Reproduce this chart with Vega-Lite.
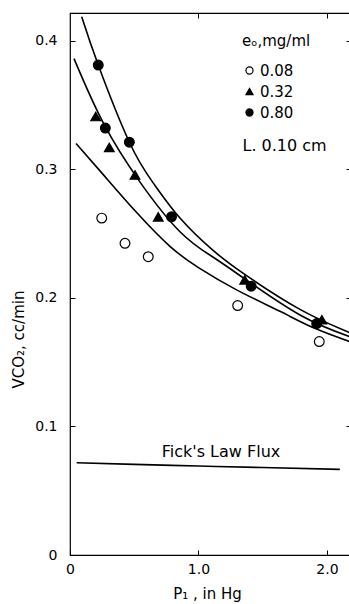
{
  "$schema": "https://vega.github.io/schema/vega-lite/v6.json",
  "width": 281,
  "height": 542,
  "autosize": {"type": "none"},
  "padding": {"left": 70, "top": 13, "right": 0, "bottom": 49},
  "background": "white",
  "config": {
    "font": "DejaVu Sans",
    "view": {"stroke": "black", "strokeWidth": 1.2},
    "axis": {
      "grid": false, "domain": false, "tickColor": "black", "tickSize": -5, "tickWidth": 1,
      "labelColor": "black", "titleColor": "black", "labelFont": "DejaVu Sans", "labelFontSize": 14,
      "titleFont": "DejaVu Sans", "titleFontSize": 15, "titleFontWeight": "normal", "labelFlush": false
    },
    "legend": {
      "titleFont": "DejaVu Sans", "labelFont": "DejaVu Sans",
      "titleFontSize": 15, "titleFontWeight": "normal", "titleColor": "black",
      "labelFontSize": 15, "labelColor": "black", "titlePadding": 14, "rowPadding": 5,
      "labelOffset": 3, "symbolStrokeWidth": 1.2, "symbolSize": 50
    }
  },
  "datasets": {
    "points": [
      {"series": "0.08", "x": 0.247, "y": 0.262},
      {"series": "0.08", "x": 0.428, "y": 0.2424},
      {"series": "0.08", "x": 0.609, "y": 0.232},
      {"series": "0.08", "x": 1.305, "y": 0.194},
      {"series": "0.08", "x": 1.94, "y": 0.166},
      {"series": "0.32", "x": 0.20, "y": 0.341},
      {"series": "0.32", "x": 0.306, "y": 0.317},
      {"series": "0.32", "x": 0.506, "y": 0.2955},
      {"series": "0.32", "x": 0.687, "y": 0.263},
      {"series": "0.32", "x": 1.36, "y": 0.214},
      {"series": "0.32", "x": 1.96, "y": 0.183},
      {"series": "0.80", "x": 0.22, "y": 0.381},
      {"series": "0.80", "x": 0.275, "y": 0.332},
      {"series": "0.80", "x": 0.462, "y": 0.321},
      {"series": "0.80", "x": 0.79, "y": 0.263},
      {"series": "0.80", "x": 1.41, "y": 0.209},
      {"series": "0.80", "x": 1.92, "y": 0.180}
    ],
    "curves": [
      {"series": "0.80", "x": 0.091, "y": 0.4186},
      {"series": "0.80", "x": 0.22, "y": 0.381},
      {"series": "0.80", "x": 0.462, "y": 0.321},
      {"series": "0.80", "x": 0.65, "y": 0.289},
      {"series": "0.80", "x": 0.856, "y": 0.262},
      {"series": "0.80", "x": 1.1, "y": 0.238},
      {"series": "0.80", "x": 1.349, "y": 0.219},
      {"series": "0.80", "x": 1.79, "y": 0.191},
      {"series": "0.80", "x": 2.19, "y": 0.1724},
      {"series": "0.32", "x": 0.031, "y": 0.386},
      {"series": "0.32", "x": 0.259, "y": 0.336},
      {"series": "0.32", "x": 0.545, "y": 0.290},
      {"series": "0.32", "x": 0.856, "y": 0.2514},
      {"series": "0.32", "x": 1.1, "y": 0.2325},
      {"series": "0.32", "x": 1.336, "y": 0.2164},
      {"series": "0.32", "x": 1.79, "y": 0.1866},
      {"series": "0.32", "x": 2.19, "y": 0.1693},
      {"series": "0.08", "x": 0.047, "y": 0.320},
      {"series": "0.08", "x": 0.259, "y": 0.2958},
      {"series": "0.08", "x": 0.519, "y": 0.2663},
      {"series": "0.08", "x": 0.778, "y": 0.240},
      {"series": "0.08", "x": 1.0, "y": 0.2235},
      {"series": "0.08", "x": 1.3, "y": 0.206},
      {"series": "0.08", "x": 1.634, "y": 0.1895},
      {"series": "0.08", "x": 1.9, "y": 0.1765},
      {"series": "0.08", "x": 2.19, "y": 0.1655}
    ],
    "fick": [
      {"x": 0.052, "y": 0.0718},
      {"x": 0.5, "y": 0.0705},
      {"x": 1.0, "y": 0.0692},
      {"x": 1.5, "y": 0.0680},
      {"x": 2.1, "y": 0.0666}
    ],
    "notes": [
      {"x": 1.175, "y": 0.0803, "label": "Fick's Law Flux"},
      {"x": 1.67, "y": 0.318, "label": "L. 0.10 cm"}
    ]
  },
  "layer": [
    {
      "data": {"name": "curves"},
      "mark": {"type": "line", "interpolate": "natural", "color": "black", "strokeWidth": 1.6, "clip": true},
      "encoding": {
        "x": {"field": "x", "type": "quantitative", "scale": {"domain": [0, 2.187], "nice": false, "zero": false}, "axis": null},
        "y": {"field": "y", "type": "quantitative", "scale": {"domain": [0, 0.4215], "nice": false, "zero": false}, "axis": null},
        "detail": {"field": "series", "type": "nominal"}
      }
    },
    {
      "data": {"name": "fick"},
      "mark": {"type": "line", "interpolate": "natural", "color": "black", "strokeWidth": 1.6, "clip": true},
      "encoding": {
        "x": {"field": "x", "type": "quantitative", "axis": null},
        "y": {"field": "y", "type": "quantitative", "axis": null}
      }
    },
    {
      "data": {"name": "points"},
      "mark": {"type": "point", "filled": true, "strokeWidth": 1.2, "opacity": 1, "size": 95},
      "encoding": {
        "x": {"field": "x", "type": "quantitative", "title": "P₁ , in Hg",
          "axis": {"values": [0, 1, 2], "labelExpr": "datum.value === 0 ? '0' : format(datum.value, '.1f')", "labelPadding": 12, "titleX": 137, "titleY": 38, "titleBaseline": "middle", "titleAlign": "center"}},
        "y": {"field": "y", "type": "quantitative", "title": "VCO₂, cc/min",
          "axis": {"values": [0, 0.1, 0.2, 0.3, 0.4], "labelExpr": "datum.value === 0 ? '0' : format(datum.value, '.1f')", "labelPadding": 18, "titleX": -52, "titleY": 326, "titleAngle": -90, "titleBaseline": "middle", "titleAlign": "center",
            "encode": {"labels": {"update": {"dx": {"signal": "datum.value === 0 ? 6 : 0"}}}}}},
        "shape": {"field": "series", "type": "nominal", "title": "eₒ,mg/ml",
          "scale": {"domain": ["0.08", "0.32", "0.80"], "range": ["circle", "triangle-up", "circle"]},
          "legend": {"orient": "none", "legendX": 172, "legendY": 21}},
        "fill": {"field": "series", "type": "nominal", "title": "eₒ,mg/ml",
          "scale": {"domain": ["0.08", "0.32", "0.80"], "range": ["white", "black", "black"]},
          "legend": {"orient": "none", "legendX": 172, "legendY": 21}},
        "stroke": {"field": "series", "type": "nominal", "title": "eₒ,mg/ml",
          "scale": {"domain": ["0.08", "0.32", "0.80"], "range": ["black", "black", "black"]},
          "legend": {"orient": "none", "legendX": 172, "legendY": 21}}
      }
    },
    {
      "data": {"name": "notes"},
      "mark": {"type": "text", "fontSize": 16, "align": "center", "baseline": "middle", "color": "black"},
      "encoding": {
        "x": {"field": "x", "type": "quantitative", "axis": null},
        "y": {"field": "y", "type": "quantitative", "axis": null},
        "text": {"field": "label", "type": "nominal"}
      }
    },
    {
      "data": {"name": "points"},
      "mark": {"type": "point", "opacity": 0},
      "encoding": {
        "x": {"field": "x", "type": "quantitative", "axis": {"orient": "top", "values": [1, 2], "labels": false, "title": null}},
        "y": {"field": "y", "type": "quantitative", "axis": {"orient": "right", "values": [0.1, 0.2, 0.3, 0.4], "labels": false, "title": null}}
      }
    }
  ],
  "resolve": {"axis": {"x": "independent", "y": "independent"}}
}
